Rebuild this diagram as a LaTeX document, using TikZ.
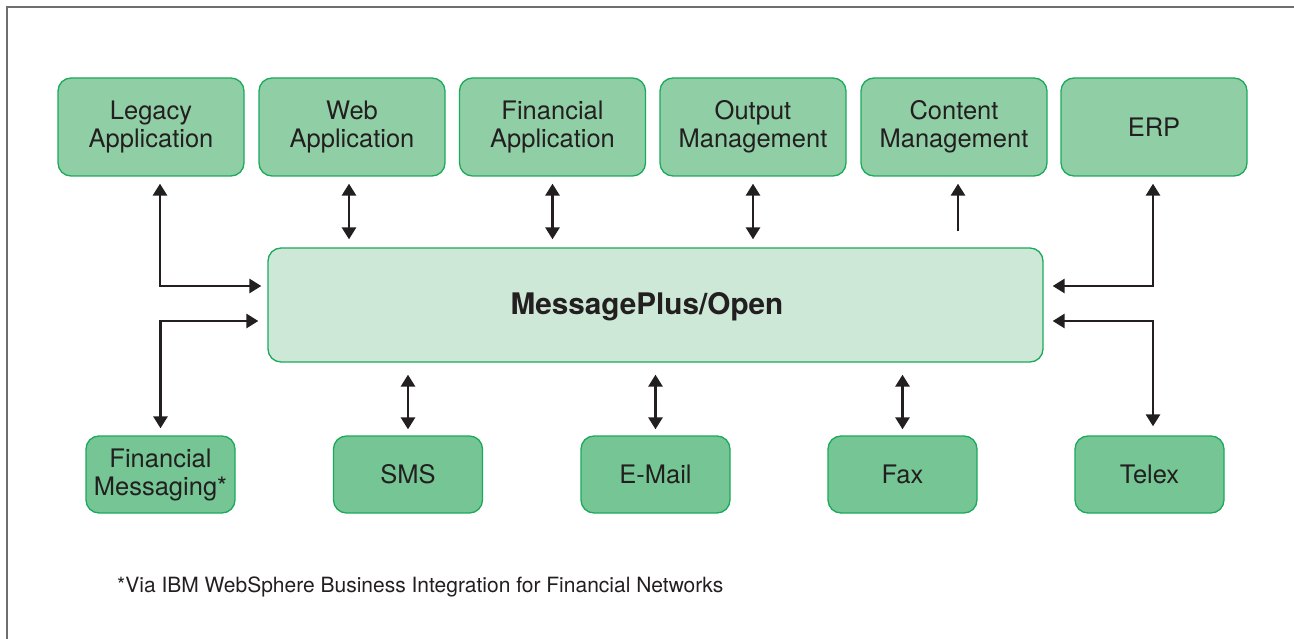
\documentclass[tikz,border=0pt]{standalone}
\usepackage{fontspec}
\setmainfont{TeX Gyre Heros}
\usetikzlibrary{arrows.meta,calc}
\definecolor{topfill}{HTML}{90CFA6}
\definecolor{botfill}{HTML}{75C694}
\definecolor{midfill}{HTML}{CDE8D7}
\definecolor{boxline}{HTML}{1BAA5C}
\definecolor{ink}{HTML}{231F20}
\definecolor{framec}{HTML}{6D6E71}
\tikzset{
  box/.style={draw=boxline, line width=1.3pt, rounded corners=13pt, align=center,
    text=ink, font=\fontsize{25.5}{28}\selectfont, inner sep=0pt},
  topbox/.style={box, fill=topfill, minimum width=186pt, minimum height=98pt},
  botbox/.style={box, fill=botfill, minimum width=149pt, minimum height=77pt},
  midbox/.style={box, fill=midfill, minimum width=775pt, minimum height=114pt},
  conn/.style={draw=ink, line width=2.8pt, {Triangle[length=12pt,width=14pt]}-{Triangle[length=12pt,width=14pt]}},
  conn1/.style={draw=ink, line width=2.8pt, -{Triangle[length=12pt,width=14pt]}},
  note/.style={text=ink, font=\fontsize{21}{24}\selectfont, anchor=base west, inner sep=0pt},
  title/.style={text=ink, font=\fontsize{29.7}{33}\selectfont\bfseries, inner sep=0pt}
}
\begin{document}
\begin{tikzpicture}[x=1pt,y=-1pt]
\useasboundingbox (0,0) rectangle (1294,639);
\draw[framec, line width=2pt] (7,639) -- (7,7) -- (1294,7);

% top row
\node[topbox] (legacy) at (151,127) {Legacy\\Application};
\node[topbox] (web)    at (352,127) {Web\\Application};
\node[topbox] (fin)    at (552.5,127) {Financial\\Application};
\node[topbox] (out)    at (753,127) {Output\\Management};
\node[topbox] (cont)   at (954,127) {Content\\Management};
\node[topbox] (erp)    at (1154,127) {ERP};

% center
\node[midbox] (mp) at (655.5,305) {};
\node[title] (mptext) at (647,307) {MessagePlus/Open};

% bottom row
\node[botbox] (fm)    at (160.5,474.5) {Financial\\Messaging*};
\node[botbox] (sms)   at (408,474.5) {SMS};
\node[botbox] (mail)  at (655.5,474.5) {E-Mail};
\node[botbox] (fax)   at (902.5,474.5) {Fax};
\node[botbox] (telex) at (1149.5,474.5) {Telex};

% top connectors
\draw[conn, shorten <=7pt, shorten >=6pt] ([xshift=9pt]legacy.south) |- ([yshift=19pt]mp.west);
\draw[conn, shorten <=7pt, shorten >=8pt] ([xshift=-3pt]web.south) -- ([xshift=-3pt]web.south |- mp.north);
\draw[conn, shorten <=7pt, shorten >=8pt] (fin.south) -- (fin.south |- mp.north);
\draw[conn, shorten <=7pt, shorten >=8pt] (out.south) -- (out.south |- mp.north);
\draw[conn1, shorten <=16pt, shorten >=7pt] ([xshift=4pt]cont.south |- mp.north) -- ([xshift=4pt]cont.south);
\draw[conn, shorten <=7pt, shorten >=9pt] ([xshift=-1pt]erp.south) |- ([yshift=19pt]mp.east);

% bottom connectors
\draw[conn, shorten <=7pt, shorten >=9pt] (fm.north) |- ([yshift=-16pt]mp.west);
\draw[conn, shorten <=12pt, shorten >=6pt] (mp.south -| sms.north) -- (sms.north);
\draw[conn, shorten <=12pt, shorten >=6pt] (mp.south -| mail.north) -- (mail.north);
\draw[conn, shorten <=12pt, shorten >=6pt] (mp.south -| fax.north) -- (fax.north);
\draw[conn, shorten <=9pt, shorten >=9pt] ([yshift=-16pt]mp.east) -| ([xshift=3.5pt]telex.north);

% footnote
\node[note] (fn) at (117,592) {*Via IBM WebSphere Business Integration for Financial Networks};
\end{tikzpicture}
\end{document}
